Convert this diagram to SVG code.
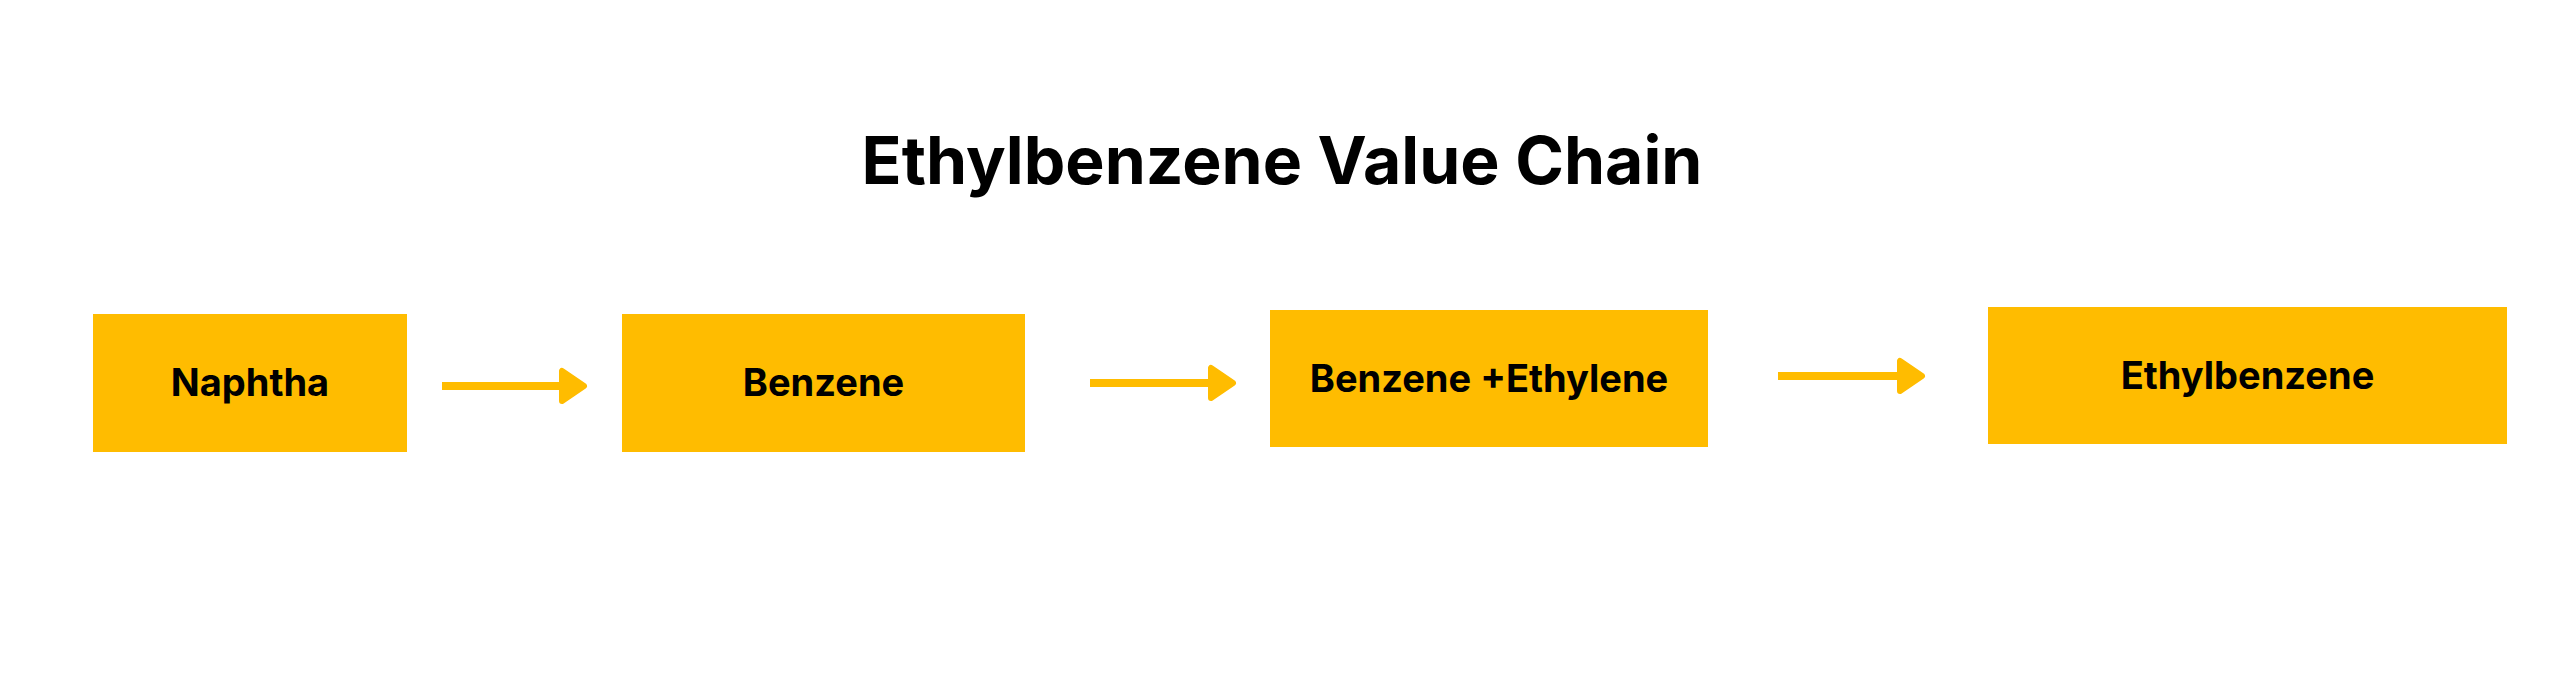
<svg xmlns="http://www.w3.org/2000/svg" width="2560" height="687" viewBox="0 0 2560 687">
  <defs>
    <style>
      .box { fill: #FFBC00; }
      .label { font-family: Inter, "Liberation Sans", Arial, sans-serif; font-weight: 700; font-size: 38px; fill: #000000; text-anchor: middle; }
      .title { font-family: Inter, "Liberation Sans", Arial, sans-serif; font-weight: 700; font-size: 66px; fill: #000000; text-anchor: middle; }
      .conn { stroke: #FFBC00; stroke-width: 8; fill: none; stroke-linecap: butt; }
    </style>
    <marker id="head" markerUnits="userSpaceOnUse" markerWidth="32" markerHeight="42" viewBox="0 0 32 42" refX="1" refY="21" orient="auto">
      <path d="M4,6 L4,36 L26,21 Z" fill="#FFBC00" stroke="#FFBC00" stroke-width="6" stroke-linejoin="round"/>
    </marker>
  </defs>
  <rect width="2560" height="687" fill="#FFFFFF"/>
  <text class="title" x="1282" y="184">Ethylbenzene Value Chain</text>

  <g id="node-naphtha">
    <rect class="box" x="93" y="314" width="314" height="138"/>
    <text class="label" x="250" y="396">Naphtha</text>
  </g>
  <g id="node-benzene">
    <rect class="box" x="622" y="314" width="403" height="138"/>
    <text class="label" x="823.5" y="396">Benzene</text>
  </g>
  <g id="node-benzene-ethylene">
    <rect class="box" x="1270" y="310" width="438" height="137"/>
    <text class="label" x="1489" y="392">Benzene +Ethylene</text>
  </g>
  <g id="node-ethylbenzene">
    <rect class="box" x="1988" y="307" width="519" height="137"/>
    <text class="label" x="2247.5" y="389">Ethylbenzene</text>
  </g>

  <g id="connectors">
    <path class="conn" d="M442,386 H559" marker-end="url(#head)"/>
    <path class="conn" d="M1090,383 H1208" marker-end="url(#head)"/>
    <path class="conn" d="M1778,376 H1897" marker-end="url(#head)"/>
  </g>
</svg>
